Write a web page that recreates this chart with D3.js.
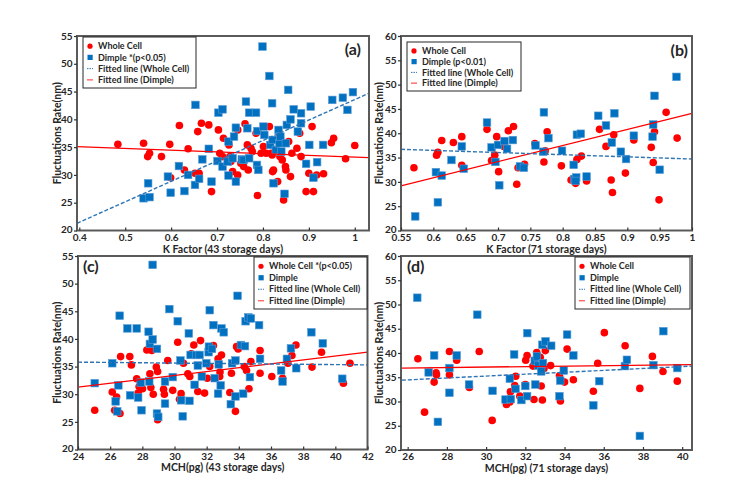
<!DOCTYPE html>
<html><head><meta charset="utf-8">
<script src="https://cdn.jsdelivr.net/npm/d3@7"></script>
<style>
body{margin:0;background:#fff}
svg{display:block}
text{font-family:Lato,'Open Sans',sans-serif;font-weight:bold;fill:#262626}
</style>
</head><body><svg id="chart" width="741" height="487"></svg>
<script>
// ---------------- DATA ----------------
// Panel (a): K Factor, 43 storage days
const aWhole = [[0.484,35.5],[0.540,35.7],[0.549,33.3],[0.553,33.9],[0.579,33.3],[0.597,35.5],[0.599,29.5],[0.618,38.9],[0.629,30.9],[0.637,34.7],[0.652,30.3],[0.658,37.8],[0.661,30.3],[0.666,39.3],[0.682,39.0],[0.688,27.0],[0.703,38.1],[0.706,33.9],[0.712,33.3],[0.714,36.6],[0.726,35.4],[0.728,33.3],[0.730,32.4],[0.734,30.6],[0.745,30.0],[0.745,38.1],[0.752,32.1],[0.758,31.5],[0.761,39.2],[0.766,35.4],[0.768,30.9],[0.774,34.8],[0.777,34.2],[0.785,37.5],[0.788,26.3],[0.796,33.9],[0.801,35.1],[0.807,33.9],[0.814,38.7],[0.818,33.9],[0.820,33.6],[0.821,30.6],[0.823,30.9],[0.832,28.8],[0.836,36.9],[0.837,33.3],[0.842,32.7],[0.845,25.5],[0.849,31.5],[0.850,30.9],[0.856,36.0],[0.860,29.7],[0.863,33.9],[0.874,34.8],[0.880,37.5],[0.883,33.3],[0.894,27.0],[0.900,30.3],[0.907,38.7],[0.910,27.0],[0.917,30.0],[0.932,30.2],[0.949,35.8],[0.954,36.6],[0.980,32.9],[1.000,35.3]];
const aDimple = [[0.540,25.8],[0.550,28.5],[0.553,26.0],[0.593,29.7],[0.599,26.8],[0.617,31.6],[0.629,27.1],[0.637,30.0],[0.653,42.6],[0.652,28.2],[0.661,29.3],[0.668,32.8],[0.682,34.7],[0.688,28.8],[0.701,32.5],[0.703,41.2],[0.712,41.8],[0.712,31.5],[0.723,32.4],[0.725,36.0],[0.725,29.9],[0.734,33.0],[0.737,36.9],[0.741,38.5],[0.741,28.8],[0.754,32.8],[0.758,32.7],[0.763,43.2],[0.766,38.4],[0.770,41.2],[0.770,33.0],[0.785,41.2],[0.787,31.8],[0.790,30.9],[0.788,37.9],[0.799,53.1],[0.801,38.7],[0.803,37.2],[0.814,47.8],[0.820,42.9],[0.816,35.4],[0.821,36.3],[0.823,28.5],[0.828,34.5],[0.834,38.1],[0.836,35.7],[0.838,36.9],[0.840,34.2],[0.847,26.6],[0.850,35.7],[0.852,39.0],[0.855,45.3],[0.860,40.0],[0.867,41.8],[0.876,37.8],[0.883,39.3],[0.883,41.1],[0.894,32.0],[0.901,35.4],[0.904,42.3],[0.910,29.5],[0.918,32.3],[0.931,35.4],[0.951,43.5],[0.974,43.9],[0.984,41.7],[0.996,44.9]];
const aFitWhole = [[0.395,21.3],[1.031,44.7]];
const aFitDimple = [[0.395,35.1],[1.031,33.1]];
const aXTicks = [0.4,0.5,0.6,0.7,0.8,0.9,1];
const aXTickLabels = ['0.4','0.5','0.6','0.7','0.8','0.9','1'];

// Panel (b): K Factor, 71 storage days
const bWhole = [[0.570,32.9],[0.605,35.5],[0.607,36.1],[0.613,38.5],[0.631,38.1],[0.644,39.3],[0.644,33.4],[0.683,40.8],[0.690,34.4],[0.695,35.5],[0.698,39.3],[0.701,32.1],[0.709,37.3],[0.716,40.5],[0.724,41.4],[0.729,29.5],[0.731,32.9],[0.741,33.6],[0.757,37.9],[0.771,34.1],[0.773,36.4],[0.776,40.3],[0.798,33.3],[0.813,30.4],[0.820,29.7],[0.822,34.6],[0.829,35.3],[0.837,30.2],[0.857,40.8],[0.867,37.3],[0.875,30.4],[0.879,39.7],[0.877,27.8],[0.897,31.8],[0.910,38.6],[0.937,37.1],[0.940,34.0],[0.942,40.3],[0.949,26.3],[0.960,44.3],[0.977,39.0]];
const bDimple = [[0.572,22.9],[0.604,32.0],[0.607,25.8],[0.613,31.3],[0.628,34.5],[0.644,37.3],[0.647,32.7],[0.683,42.2],[0.690,37.1],[0.696,34.1],[0.700,37.6],[0.702,29.3],[0.710,38.4],[0.714,36.8],[0.723,38.6],[0.734,33.2],[0.740,32.9],[0.758,37.5],[0.770,36.2],[0.771,44.3],[0.778,39.0],[0.799,36.4],[0.817,33.5],[0.818,30.6],[0.821,30.9],[0.820,30.2],[0.822,39.7],[0.828,39.9],[0.837,31.1],[0.855,43.6],[0.867,41.6],[0.876,38.1],[0.880,44.1],[0.890,36.2],[0.898,34.7],[0.910,39.5],[0.939,39.3],[0.940,41.8],[0.942,47.7],[0.950,32.5],[0.976,51.6]];
const bFitWhole = [[0.55,36.7],[1.0,34.7]];
const bFitDimple = [[0.55,29.2],[1.0,44.1]];
const bXTicks = [0.55,0.6,0.65,0.7,0.75,0.8,0.85,0.9,0.95,1];
const bXTickLabels = ['0.55','0.6','0.65','0.7','0.75','0.8','0.85','0.9','0.95','1'];

// Panel (c): MCH, 43 storage days
const cWhole = [[25.04,27.1],[26.13,30.4],[26.28,27.1],[26.40,29.5],[26.65,36.8],[26.61,26.5],[27.22,36.8],[27.32,35.3],[27.65,32.8],[27.74,30.2],[27.80,31.4],[28.01,31.0],[28.28,38.0],[28.47,33.7],[28.53,31.2],[28.59,37.9],[28.68,30.0],[28.87,34.9],[28.95,34.1],[28.95,25.4],[29.32,30.9],[29.37,30.0],[29.58,36.1],[29.89,30.7],[30.20,39.4],[30.31,29.1],[30.41,30.1],[30.56,35.6],[30.83,33.7],[30.95,33.2],[31.04,37.3],[31.20,38.9],[31.45,30.5],[31.62,39.7],[31.87,30.2],[32.04,32.9],[32.19,35.0],[32.42,38.8],[32.71,36.4],[32.81,33.2],[32.83,34.0],[32.92,37.1],[33.44,30.3],[33.54,33.8],[33.79,26.9],[33.86,38.6],[33.96,38.2],[34.34,35.0],[34.48,34.3],[34.63,31.0],[34.75,35.9],[35.32,37.9],[35.32,33.8],[36.05,33.2],[36.72,32.9],[37.05,35.6],[37.30,37.0],[37.55,38.9],[38.55,34.9],[39.14,37.6],[40.50,32.0],[40.91,35.6]];
const cDimple = [[25.04,32.0],[26.13,35.6],[26.34,28.7],[26.44,26.9],[26.51,31.6],[26.59,44.2],[27.07,41.9],[27.24,29.8],[27.65,41.9],[27.74,29.4],[27.95,27.1],[27.90,32.1],[28.39,41.3],[28.47,39.1],[28.64,39.9],[28.43,32.3],[28.64,53.4],[28.91,38.2],[28.91,26.5],[28.99,25.9],[29.41,32.3],[29.41,28.3],[29.68,45.4],[29.89,33.1],[30.20,43.2],[30.37,36.1],[30.41,28.9],[30.51,26.0],[30.89,41.0],[30.93,28.8],[31.00,37.1],[31.25,31.7],[31.35,37.1],[31.45,35.2],[31.56,37.1],[31.70,33.2],[31.98,35.6],[32.12,37.6],[32.14,38.6],[32.19,45.2],[32.33,38.2],[32.42,42.5],[32.50,32.9],[32.71,30.1],[32.75,35.4],[32.87,31.6],[32.92,41.9],[33.06,41.2],[33.50,28.2],[33.58,35.6],[33.79,36.1],[33.79,29.6],[33.92,47.8],[34.13,38.9],[34.27,30.1],[34.38,38.7],[34.42,43.2],[34.59,43.9],[34.69,33.1],[34.75,43.7],[35.26,42.5],[35.32,36.4],[36.63,34.3],[36.72,32.3],[36.99,36.4],[37.24,38.3],[37.57,34.7],[38.51,41.2],[39.22,39.2],[40.43,32.8]];
const cFitWhole = [[24,35.8],[42,35.3]];
const cFitDimple = [[24,31.3],[42,37.6]];
const cXTicks = [24,26,28,30,32,34,36,38,40,42];
const cXTickLabels = ['24','26','28','30','32','34','36','38','40','42'];

// Panel (d): MCH, 71 storage days
const dWhole = [[26.52,38.8],[26.86,27.8],[27.35,34.0],[27.45,35.9],[27.47,35.5],[28.13,35.5],[28.13,40.3],[28.50,38.5],[29.15,32.9],[29.65,40.3],[30.31,26.1],[31.04,29.4],[31.21,29.9],[31.24,32.0],[31.46,33.3],[31.51,35.2],[31.72,31.1],[32.00,33.5],[32.02,38.5],[32.09,39.5],[32.39,37.3],[32.44,30.4],[32.58,40.1],[32.76,39.1],[32.81,33.2],[32.87,30.3],[32.95,36.8],[33.02,40.5],[33.29,37.4],[33.74,35.3],[33.79,30.1],[34.00,34.0],[34.13,40.8],[34.45,34.5],[35.47,32.1],[35.69,37.9],[36.03,44.2],[37.09,41.5],[37.84,32.7],[38.48,39.3],[39.02,36.2],[39.75,34.2]];
const dDimple = [[26.49,51.4],[27.07,36.0],[27.35,39.5],[27.54,25.8],[28.13,31.8],[28.13,36.9],[28.50,39.5],[29.13,33.5],[29.55,47.9],[30.33,32.2],[30.99,30.4],[31.21,34.7],[31.26,30.5],[31.43,39.7],[31.50,32.6],[31.80,30.3],[32.00,33.2],[32.09,31.1],[32.10,44.1],[32.48,38.4],[32.51,33.5],[32.59,39.3],[32.65,37.4],[32.81,36.2],[32.87,41.7],[32.90,37.9],[33.03,42.4],[33.32,41.5],[33.74,31.1],[33.78,34.3],[33.96,36.4],[34.13,43.8],[34.45,39.5],[35.47,29.2],[35.77,34.2],[37.08,37.3],[37.18,38.6],[37.84,22.9],[38.53,37.5],[39.04,44.5],[39.75,36.9]];
const dFitWhole = [[25.7,34.4],[40.5,37.3]];
const dFitDimple = [[25.7,36.9],[40.5,37.6]];
const dXTicks = [26,28,30,32,34,36,38,40];
const dXTickLabels = ['26','28','30','32','34','36','38','40'];

const yTicks55 = [20,25,30,35,40,45,50,55];
const yTicks60 = [20,25,30,35,40,45,50,55,60];

const legendA = ['Whole Cell','Dimple *(p<0.05)','Fitted line (Whole Cell)','Fitted line (Dimple)'];
const legendB = ['Whole Cell','Dimple (p<0.01)','Fitted line (Whole Cell)','Fitted line (Dimple)'];
const legendC = ['Whole Cell *(p<0.05)','Dimple','Fitted line (Whole Cell)','Fitted line (Dimple)'];
const legendD = ['Whole Cell','Dimple','Fitted line (Whole Cell)','Fitted line (Dimple)'];

const yTitle = 'Fluctuations Rate(nm)';

// ---------------- DRAW ----------------
const RED = '#ff0000', BLUE = '#0070c0', BLUE_LINE = '#2e75b6';
const svg = d3.select('#chart');

const panels = [
  {x0:77, x1:369, y0:36, y1:230.5, xd:[0.395,1.031], yd:[20,55], yt:yTicks55, xt:aXTicks, xl:aXTickLabels,
   whole:aWhole, dimple:aDimple, fw:aFitWhole, fd:aFitDimple, xTitle:'K Factor (43 storage days)', yTitleX:57, tOff:21.5,
   label:'(a)', lx:361, ly:55, anchor:'end', leg:legendA, lgx:83, lgy:37, lgw:113, lgh:51},
  {x0:401, x1:692, y0:36, y1:230.5, xd:[0.55,1.0], yd:[20,60], yt:yTicks60, xt:bXTicks, xl:bXTickLabels,
   whole:bWhole, dimple:bDimple, fw:bFitWhole, fd:bFitDimple, xTitle:'K Factor (71 storage days)', yTitleX:379, tOff:21.5,
   label:'(b)', lx:688, ly:56, anchor:'end', leg:legendB, lgx:407, lgy:42, lgw:114, lgh:49},
  {x0:78, x1:367.5, y0:256, y1:449.5, xd:[24,42], yd:[20,55], yt:yTicks55, xt:cXTicks, xl:cXTickLabels,
   whole:cWhole, dimple:cDimple, fw:cFitWhole, fd:cFitDimple, xTitle:'MCH(pg) (43 storage days)', yTitleX:57, tOff:21,
   label:'(c)', lx:83, ly:272, anchor:'start', leg:legendC, lgx:254, lgy:257, lgw:113, lgh:52},
  {x0:401, x1:692, y0:256, y1:450, xd:[25.66,40.5], yd:[20,60], yt:yTicks60, xt:dXTicks, xl:dXTickLabels,
   whole:dWhole, dimple:dDimple, fw:dFitWhole, fd:dFitDimple, xTitle:'MCH(pg) (71 storage days)', yTitleX:379, tOff:21,
   label:'(d)', lx:407, ly:272, anchor:'start', leg:legendD, lgx:575, lgy:257, lgw:115, lgh:52}
];

panels.forEach(p => {
  const x = d3.scaleLinear().domain(p.xd).range([p.x0, p.x1]);
  const y = d3.scaleLinear().domain(p.yd).range([p.y1, p.y0]);
  const g = svg.append('g');

  // points
  g.append('g').selectAll('circle').data(p.whole).join('circle')
    .attr('cx', d => x(d[0])).attr('cy', d => y(d[1])).attr('r', 3.8).attr('fill', RED);
  g.append('g').selectAll('rect').data(p.dimple).join('rect')
    .attr('x', d => x(d[0]) - 3.8).attr('y', d => y(d[1]) - 3.8).attr('width', 7.6).attr('height', 7.6)
    .attr('fill', BLUE).attr('stroke', '#5b9bd5').attr('stroke-width', 0.6);

  // fitted lines
  const line = d3.line().x(d => x(d[0])).y(d => y(d[1]));
  g.append('path').datum(p.fd).attr('d', line).attr('stroke', RED).attr('stroke-width', 1.3).attr('fill', 'none');
  g.append('path').datum(p.fw).attr('d', line).attr('stroke', BLUE_LINE).attr('stroke-width', 1.4)
    .attr('stroke-dasharray', '4,2').attr('fill', 'none');

  // frame
  g.append('rect').attr('x', p.x0).attr('y', p.y0).attr('width', p.x1 - p.x0).attr('height', p.y1 - p.y0)
    .attr('fill', 'none').attr('stroke', '#5a5a5a').attr('stroke-width', 2);

  // axes
  const xAxis = d3.axisBottom(x).tickValues(p.xt).tickSize(-3).tickPadding(3)
      .tickFormat((d,i) => p.xl[i]);
  const yAxis = d3.axisLeft(y).tickValues(p.yt).tickSize(3).tickPadding(1.5);
  const gx = g.append('g').attr('transform', `translate(0,${p.y1})`).call(xAxis);
  const gy = g.append('g').attr('transform', `translate(${p.x0},0)`).call(yAxis);
  [gx, gy].forEach(a => {
    a.select('.domain').remove();
    a.selectAll('line').attr('stroke', '#333').attr('stroke-width', 1.2);
    a.selectAll('text').attr('font-size', 10).attr('font-family', 'Lato').attr('font-weight', 'bold').attr('fill', '#262626');
  });
  // lift the lowest y label a touch so it clears the first x label
  gy.selectAll('.tick').filter(d => d === p.yd[0]).select('text').attr('dy', '0.2em');

  // titles
  g.append('text').attr('x', (p.x0 + p.x1) / 2).attr('y', p.y1 + p.tOff + 0.5).attr('text-anchor', 'middle')
    .attr('font-size', 10.5).text(p.xTitle);
  g.append('text').attr('transform', `translate(${p.yTitleX},${(p.y0 + p.y1) / 2}) rotate(-90)`)
    .attr('text-anchor', 'middle').attr('dy', '0.35em').attr('font-size', 10.5).text(yTitle);
  g.append('text').attr('x', p.lx).attr('y', p.ly).attr('text-anchor', p.anchor)
    .attr('font-size', 16).attr('fill', '#111').text(p.label);

  // legend
  const lg = g.append('g').attr('transform', `translate(${p.lgx},${p.lgy})`);
  lg.append('rect').attr('width', p.lgw).attr('height', p.lgh).attr('fill', '#fff')
    .attr('stroke', '#262626').attr('stroke-width', 1);
  const step = (p.lgh - 6) / 4;
  p.leg.forEach((t, i) => {
    const cy = 3 + step * (i + 0.5) + 0.5;
    if (i === 0) lg.append('circle').attr('cx', 7).attr('cy', cy).attr('r', 2.6).attr('fill', RED);
    if (i === 1) lg.append('rect').attr('x', 4.5).attr('y', cy - 2.6).attr('width', 5.2).attr('height', 5.2).attr('fill', BLUE);
    if (i === 2) lg.append('line').attr('x1', 4).attr('x2', 10).attr('y1', cy).attr('y2', cy)
      .attr('stroke', BLUE_LINE).attr('stroke-width', 1).attr('stroke-dasharray', '1.5,1');
    if (i === 3) lg.append('line').attr('x1', 4).attr('x2', 10).attr('y1', cy).attr('y2', cy)
      .attr('stroke', RED).attr('stroke-width', 1.2).attr('opacity', 0.7);
    lg.append('text').attr('x', 15).attr('y', cy).attr('dy', '0.35em').attr('font-size', 9).text(t);
  });
});
</script>
</body></html>
